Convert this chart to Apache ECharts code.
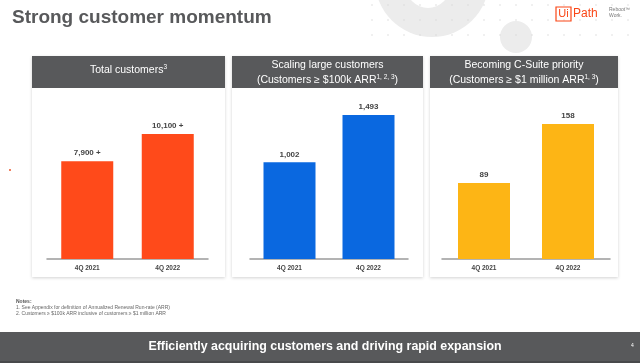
<!DOCTYPE html>
<html><head><meta charset="utf-8">
<script src="https://cdn.jsdelivr.net/npm/echarts@6/dist/echarts.min.js"></script>
<style>html,body{margin:0;padding:0;background:#fff}#c{width:640px;height:363px}</style>
</head><body><div id="c"></div>
<script>
const categories = ['4Q 2021', '4Q 2022'];
const totalCustomers = [7900, 10100];
const totalLabels = ['7,900 +', '10,100 +'];
const largeCustomers = [1002, 1493];
const largeLabels = ['1,002', '1,493'];
const millionCustomers = [89, 158];
const millionLabels = ['89', '158'];
const panelTitles = [
  ['Total customers{s|3}'],
  ['Scaling large customers', '(Customers ≥ $100k ARR{s|1, 2, 3})'],
  ['Becoming C-Suite priority', '(Customers ≥ $1 million ARR{s|1, 3})']
];
const notes = ['1. See Appendix for definition of Annualized Renewal Run-rate (ARR)',
  '2. Customers ≥ $100k ARR inclusive of customers ≥ $1 million ARR'];

const FONT = '"Liberation Sans", Arial, sans-serif';
const chart = echarts.init(document.getElementById('c'), null, {renderer: 'canvas'});

const panels = [
  {x: 32, w: 193, gl: 47, gw: 161, max: 13251, data: totalCustomers, labels: totalLabels, color: '#FF4A1A'},
  {x: 232, w: 191, gl: 250, gw: 158, max: 1700, data: largeCustomers, labels: largeLabels, color: '#0A68E0'},
  {x: 430, w: 188, gl: 442, gw: 168, max: 192, data: millionCustomers, labels: millionLabels, color: '#FDB515'}
];

const graphics = [];
// decorative background
const dots = [];
for (let gx = 372; gx < 640; gx += 16) {
  for (let gy = 5; gy < 48; gy += 15) {
    dots.push({type: 'circle', shape: {cx: gx, cy: gy, r: 0.7}, style: {fill: '#d6d6d6'}, z: -5});
  }
}
graphics.push({type: 'circle', shape: {cx: 432, cy: -20, r: 57}, style: {fill: '#ececec'}, z: -6});
graphics.push({type: 'circle', shape: {cx: 428, cy: -14, r: 22}, style: {fill: '#ffffff'}, z: -6});
graphics.push({type: 'circle', shape: {cx: 516, cy: 37, r: 16}, style: {fill: '#ececec'}, z: -6});
graphics.push(...dots);
// title
graphics.push({type: 'text', left: 12, top: 8, style: {text: 'Strong customer momentum', font: 'bold 19px ' + FONT, fill: '#58595B'}});
// logo
graphics.push({type: 'rect', shape: {x: 556, y: 7, width: 15, height: 14}, style: {fill: 'none', stroke: '#FA4616', lineWidth: 1.2}});
graphics.push({type: 'text', x: 563.5, y: 14, style: {text: 'Ui', font: '11px ' + FONT, fill: '#FA4616', align: 'center', verticalAlign: 'middle'}});
graphics.push({type: 'text', x: 573, y: 14, style: {text: 'Path', font: '12px ' + FONT, fill: '#FA4616', verticalAlign: 'middle'}});
graphics.push({type: 'text', x: 609, y: 10, style: {text: 'Reboot™', font: '5px ' + FONT, fill: '#777', verticalAlign: 'middle'}});
graphics.push({type: 'text', x: 609, y: 16, style: {text: 'Work.', font: '5px ' + FONT, fill: '#777', verticalAlign: 'middle'}});
// panels
panels.forEach((p, i) => {
  graphics.push({type: 'rect', shape: {x: p.x, y: 56, width: p.w, height: 221}, style: {fill: '#fff', shadowBlur: 3, shadowColor: 'rgba(0,0,0,0.18)', shadowOffsetY: 1}, z: -1});
  graphics.push({type: 'rect', shape: {x: p.x, y: 56, width: p.w, height: 32}, style: {fill: '#58595B'}, z: 0});
  const lines = panelTitles[i];
  const cy = lines.length === 1 ? 70 : [65, 80];
  lines.forEach((t, k) => {
    graphics.push({type: 'text', x: p.x + p.w / 2, y: lines.length === 1 ? 70 : cy[k], z: 1,
      style: {text: t, font: '10.5px ' + FONT, fill: '#fff', align: 'center', verticalAlign: 'middle',
        rich: {s: {fontSize: 6.5, fill: '#fff', verticalAlign: 'top', padding: [0, 0, 6, 0], fontFamily: FONT}}}});
  });
});
// notes
graphics.push({type: 'text', x: 16, y: 299, style: {text: 'Notes:', font: 'bold 5px ' + FONT, fill: '#555'}});
notes.forEach((n, k) => graphics.push({type: 'text', x: 16, y: 305.5 + k * 6, style: {text: n, font: '5px ' + FONT, fill: '#666'}}));
// bottom banner
graphics.push({type: 'rect', shape: {x: 0, y: 332, width: 640, height: 31}, style: {fill: '#58595B'}});
graphics.push({type: 'rect', shape: {x: 0, y: 361, width: 640, height: 2}, style: {fill: '#48494b'}});
graphics.push({type: 'text', x: 325, y: 347, style: {text: 'Efficiently acquiring customers and driving rapid expansion', font: 'bold 12.4px ' + FONT, fill: '#fff', align: 'center', verticalAlign: 'middle'}});
graphics.push({type: 'text', x: 631, y: 346, style: {text: '4', font: '5px ' + FONT, fill: '#fff', verticalAlign: 'middle'}});
graphics.push({type: 'rect', shape: {x: 9, y: 169, width: 2, height: 2}, style: {fill: '#f08060'}});

const option = {
  animation: false,
  backgroundColor: '#fff',
  graphic: graphics,
  grid: panels.map(p => ({left: p.gl, width: p.gw, top: 95, height: 164, containLabel: false})),
  xAxis: panels.map((p, i) => ({
    type: 'category', gridIndex: i, data: categories,
    axisLine: {lineStyle: {color: '#9a9a9a', width: 1.5}}, axisTick: {show: false},
    axisLabel: {color: '#444', fontWeight: 'bold', fontSize: 6.5, fontFamily: FONT, margin: 6}
  })),
  yAxis: panels.map((p, i) => ({
    type: 'value', gridIndex: i, min: 0, max: p.max, show: false, splitLine: {show: false}
  })),
  series: panels.map((p, i) => ({
    type: 'bar', xAxisIndex: i, yAxisIndex: i, data: p.data, barWidth: 52,
    itemStyle: {color: p.color},
    label: {show: true, position: 'top', distance: 4, color: '#444', fontWeight: 'bold', fontSize: 8, fontFamily: FONT,
      formatter: (d) => p.labels[d.dataIndex]}
  }))
};
chart.setOption(option);
</script></body></html>
